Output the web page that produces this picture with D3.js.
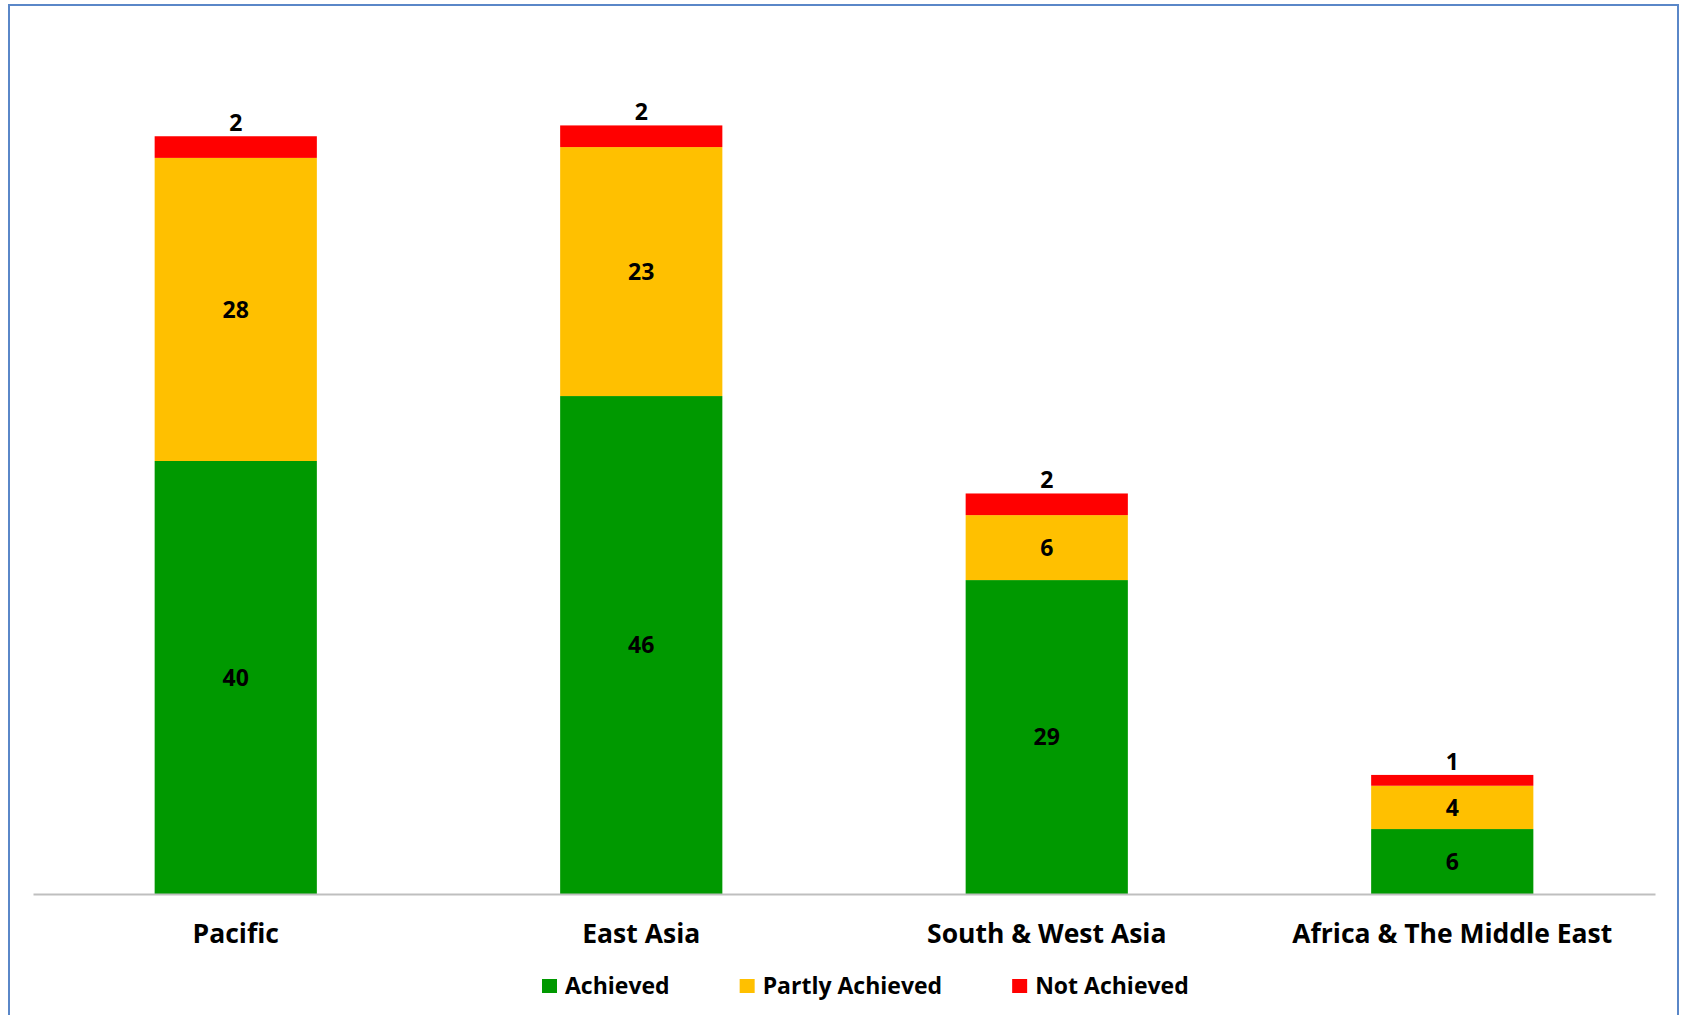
<!DOCTYPE html>
<html>
<head>
<meta charset="utf-8">
<script src="https://cdn.jsdelivr.net/npm/d3@7"></script>
<style>
  body { margin: 0; background: #fff; }
  text { font-family: "Open Sans", "DejaVu Sans", sans-serif; }
</style>
</head>
<body>
<script>
// Chart data
const regions = ["Pacific", "East Asia", "South & West Asia", "Africa & The Middle East"];
const achieved = [40, 46, 29, 6];
const partlyAchieved = [28, 23, 6, 4];
const notAchieved = [2, 2, 2, 1];
const seriesNames = ["Achieved", "Partly Achieved", "Not Achieved"];
const seriesColors = ["#009900", "#ffc000", "#ff0000"];

const width = 1685;
const height = 1015;

const svg = d3.select("body")
    .append("svg")
    .attr("width", width)
    .attr("height", height);

// outer frame
svg.append("rect")
    .attr("x", 9)
    .attr("y", 5)
    .attr("width", 1669)
    .attr("height", 1030)
    .attr("fill", "none")
    .attr("stroke", "#5a87c8")
    .attr("stroke-width", 2);

// build the rows for the stack
const rows = regions.map((r, i) => ({
    region: r,
    "Achieved": achieved[i],
    "Partly Achieved": partlyAchieved[i],
    "Not Achieved": notAchieved[i]
}));

const stacked = d3.stack().keys(seriesNames)(rows);

const x = d3.scaleBand()
    .domain(regions)
    .range([33, 1655])
    .paddingInner(0.6)
    .paddingOuter(0.3);

const y = d3.scaleLinear()
    .domain([0, 80])
    .range([894, 28]);

const color = d3.scaleOrdinal().domain(seriesNames).range(seriesColors);

// bars
const layers = svg.append("g")
    .selectAll("g")
    .data(stacked)
    .join("g")
    .attr("fill", d => color(d.key));

layers.selectAll("rect")
    .data(d => d)
    .join("rect")
    .attr("x", d => x(d.data.region))
    .attr("y", d => y(d[1]))
    .attr("width", x.bandwidth())
    .attr("height", d => y(d[0]) - y(d[1]));

// value labels: centered for the first two series, above the bar for the last one
layers.each(function (layer) {
    const isTop = layer.key === "Not Achieved";
    d3.select(this).selectAll("text")
        .data(layer)
        .join("text")
        .attr("x", d => x(d.data.region) + x.bandwidth() / 2)
        .attr("y", d => isTop ? y(d[1]) - 5 : (y(d[0]) + y(d[1])) / 2)
        .attr("dy", isTop ? "0" : "0.36em")
        .attr("text-anchor", "middle")
        .attr("fill", "#000")
        .attr("font-size", 23)
        .attr("font-weight", 700)
        .text(d => d[1] - d[0]);
});

// x axis
const xAxis = svg.append("g")
    .attr("transform", "translate(0,894)")
    .call(d3.axisBottom(x).tickSize(0).tickSizeOuter(0).tickPadding(30));

xAxis.select(".domain")
    .attr("stroke", "#bfbfbf")
    .attr("stroke-width", 2);

xAxis.selectAll(".tick text")
    .attr("font-family", "Open Sans, sans-serif")
    .attr("font-size", 26.5)
    .attr("font-weight", 700)
    .attr("fill", "#000");

// legend
const legend = svg.append("g").attr("transform", "translate(542,979)");
let lx = 0;
seriesNames.forEach((name, i) => {
    const item = legend.append("g").attr("transform", `translate(${lx},0)`);
    item.append("rect")
        .attr("width", 15)
        .attr("height", 14)
        .attr("fill", seriesColors[i]);
    const t = item.append("text")
        .attr("x", 23)
        .attr("y", 15)
        .attr("font-size", 23)
        .attr("font-weight", 700)
        .attr("fill", "#000")
        .text(name);
    lx += 23 + t.node().getComputedTextLength() + 70;
});
</script>
</body>
</html>
